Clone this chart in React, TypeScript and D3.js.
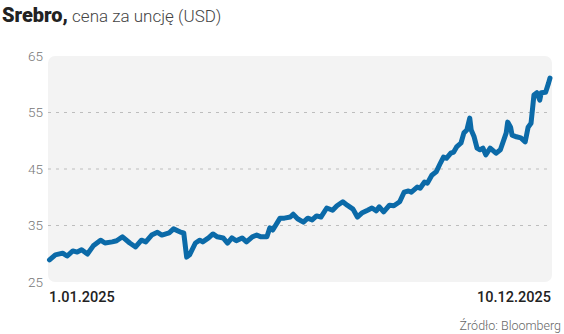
import React from "react";
import * as d3 from "d3";

const dates = [
  "2025-01-01","2025-01-05","2025-01-10","2025-01-13","2025-01-17","2025-01-20","2025-01-23","2025-01-27","2025-01-31",
  "2025-02-05","2025-02-08","2025-02-13","2025-02-16","2025-02-20","2025-02-25",
  "2025-03-01","2025-03-05","2025-03-08","2025-03-12","2025-03-16","2025-03-19","2025-03-24","2025-03-27",
  "2025-04-01","2025-04-03","2025-04-05","2025-04-07","2025-04-11","2025-04-14","2025-04-16","2025-04-20","2025-04-23","2025-04-26","2025-04-30",
  "2025-05-03","2025-05-06","2025-05-09","2025-05-13","2025-05-16","2025-05-20","2025-05-23","2025-05-26","2025-05-30",
  "2025-06-01","2025-06-03","2025-06-08","2025-06-11","2025-06-15","2025-06-17","2025-06-20","2025-06-24","2025-06-27","2025-06-30",
  "2025-07-03","2025-07-06","2025-07-10","2025-07-14","2025-07-17","2025-07-21","2025-07-24","2025-07-28","2025-07-31",
  "2025-08-03","2025-08-07","2025-08-10","2025-08-13","2025-08-15","2025-08-18","2025-08-22","2025-08-25","2025-08-29",
  "2025-09-01","2025-09-04","2025-09-06","2025-09-10","2025-09-12","2025-09-15","2025-09-17","2025-09-20","2025-09-23","2025-09-26","2025-09-28","2025-09-30",
  "2025-10-03","2025-10-05","2025-10-07","2025-10-10","2025-10-12","2025-10-14","2025-10-16","2025-10-17","2025-10-19","2025-10-21","2025-10-23","2025-10-25","2025-10-27","2025-10-30",
  "2025-11-03","2025-11-06","2025-11-10","2025-11-11","2025-11-13","2025-11-14","2025-11-17","2025-11-20","2025-11-23","2025-11-25","2025-11-27","2025-11-29",
  "2025-12-01","2025-12-03","2025-12-04","2025-12-07","2025-12-09","2025-12-10",
];

const prices = [
  28.9,29.8,30.1,29.6,30.5,30.3,30.7,29.95,31.4,
  32.4,31.9,32.1,32.3,33.0,31.9,
  31.2,32.4,32.1,33.3,33.8,33.3,33.7,34.4,
  33.8,33.7,29.4,29.8,31.9,32.4,32.1,32.8,33.5,33.0,32.8,
  31.9,32.8,32.3,32.8,32.1,33.0,33.3,33.0,33.0,
  34.6,34.2,36.3,36.3,36.5,37.0,36.2,35.6,36.3,36.0,
  36.7,36.5,38.1,37.7,38.5,39.2,38.6,37.9,36.5,
  37.2,37.7,38.1,37.6,38.3,37.4,38.6,38.5,39.2,
  40.9,41.1,40.9,41.8,41.6,42.7,42.5,43.9,44.5,46.1,47.1,46.9,
  47.8,48.0,48.9,49.6,51.4,51.9,54.0,51.9,50.7,48.7,48.4,48.7,47.5,48.7,
  47.8,48.4,51.4,53.3,52.4,51.0,50.7,50.5,49.8,52.4,53.1,58.1,
  58.5,57.2,58.5,58.6,60.2,61.1,
];

const yTicks = [25, 35, 45, 55, 65];
const gridTicks = [35, 45, 55];
const startLabel = "1.01.2025";
const endLabel = "10.12.2025";
const titleBold = "Srebro,";
const titleRest = " cena za uncję (USD)";
const sourceLabel = "Źródło: Bloomberg";

const W = 564;
const H = 334;
const plot = { left: 48, right: 552, top: 56, bottom: 282 };

export default function App() {
  const parse = d3.timeParse("%Y-%m-%d");
  const data = dates.map((d, i) => ({ date: parse(d) as Date, value: prices[i] }));

  const x = d3
    .scaleTime()
    .domain([parse("2025-01-01") as Date, parse("2025-12-10") as Date])
    .range([plot.left + 1.5, plot.right - 2]);
  const y = d3.scaleLinear().domain([25, 65]).range([plot.bottom, plot.top]);

  const line = d3
    .line<{ date: Date; value: number }>()
    .x((d) => x(d.date))
    .y((d) => y(d.value))
    .curve(d3.curveLinear);

  const font = "Roboto, 'Open Sans', sans-serif";

  return (
    <svg
      width={W}
      height={H}
      style={{ position: "absolute", left: 0, top: 0, background: "#fff" }}
    >
      <text x={2} y={22} fontFamily={font} fontSize={17} fill="#222">
        <tspan fontWeight={900} fontSize={20}>{titleBold}</tspan>
        <tspan fontWeight={300} fill="#444">{titleRest}</tspan>
      </text>

      <rect
        x={plot.left}
        y={plot.top}
        width={plot.right - plot.left}
        height={plot.bottom - plot.top}
        rx={7}
        fill="#f3f3f3"
      />

      {gridTicks.map((t) => (
        <line
          key={t}
          x1={plot.left}
          x2={plot.right}
          y1={y(t)}
          y2={y(t)}
          stroke="#bdbdbd"
          strokeWidth={1}
          strokeDasharray="3,5"
        />
      ))}

      {yTicks.map((t) => (
        <text
          key={t}
          x={43}
          y={y(t)}
          dy="0.35em"
          textAnchor="end"
          fontFamily={font}
          fontSize={13.5}
          fontWeight={300}
          fill="#777"
        >
          {t}
        </text>
      ))}

      <path
        d={line(data) || ""}
        fill="none"
        stroke="#0b6aa8"
        strokeWidth={5}
        strokeLinejoin="round"
        strokeLinecap="round"
      />

      <text x={49} y={302} fontFamily={font} fontSize={14.5} fontWeight={500} fill="#222">
        {startLabel}
      </text>
      <text x={551} y={302} textAnchor="end" fontFamily={font} fontSize={14.5} fontWeight={500} fill="#222">
        {endLabel}
      </text>
      <text x={561} y={330} textAnchor="end" fontFamily={font} fontSize={12.5} fontWeight={300} fill="#666">
        {sourceLabel}
      </text>
    </svg>
  );
}
